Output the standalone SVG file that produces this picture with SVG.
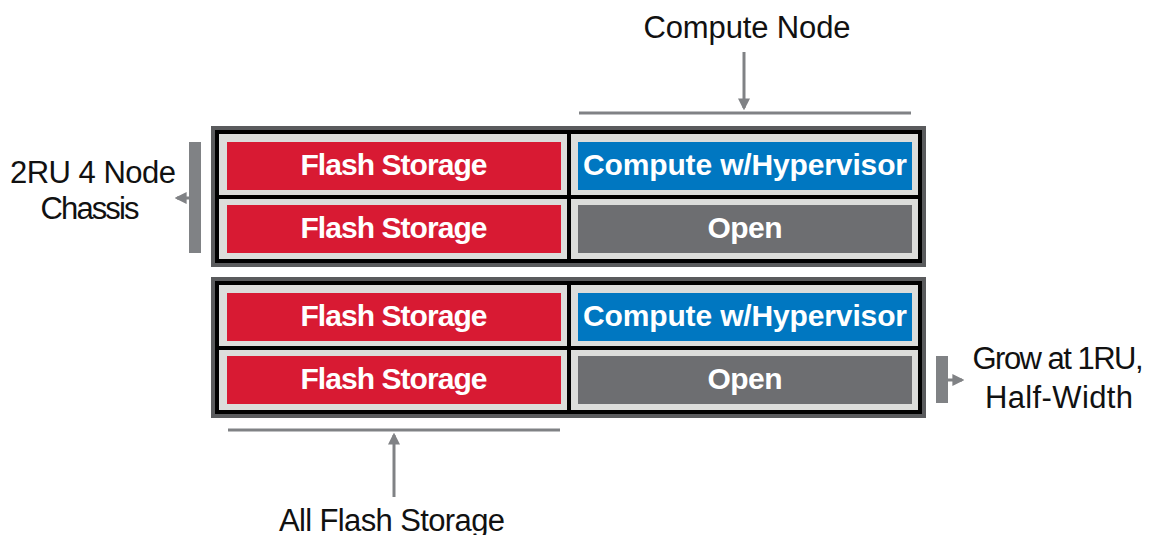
<svg xmlns="http://www.w3.org/2000/svg" width="1150" height="535" viewBox="0 0 1150 535">
<style>
.frame{fill:#5a5b5d}
.inner{fill:#000}
.cell{fill:#dcdddb}
.red{fill:#d81a33}
.blue{fill:#0077c1}
.open{fill:#6d6e71}
.wt{font-family:"Liberation Sans",Arial,sans-serif;font-weight:bold;font-size:30px;fill:#fff;text-anchor:middle}
.lb{font-family:"Liberation Sans",Arial,sans-serif;font-size:31px;fill:#111;text-anchor:middle}
.ln{stroke:#808285;stroke-width:3;fill:none}
.bar{fill:#808285}
</style>
<defs>
<marker id="ah" viewBox="0 0 10 10" refX="8" refY="5" markerWidth="4" markerHeight="4" orient="auto">
<path d="M0,0 L10,5 L0,10 z" fill="#808285"/>
</marker>
</defs>
<rect width="1150" height="535" fill="#fff"/>
<g id="chassis1">
<rect class="frame" x="211" y="126" width="715" height="141"/>
<rect class="inner" x="215" y="130" width="707" height="133"/>
<rect class="cell" x="219" y="134" width="348" height="61"/>
<rect class="cell" x="219" y="199" width="348" height="60"/>
<rect class="cell" x="571" y="134" width="347" height="61"/>
<rect class="cell" x="571" y="199" width="347" height="60"/>
<g id="c1-fs1"><rect class="red" x="227" y="142" width="334" height="48"/><text class="wt" x="394" y="175" textLength="187">Flash Storage</text></g>
<g id="c1-fs2"><rect class="red" x="227" y="205" width="334" height="48"/><text class="wt" x="394" y="238" textLength="187">Flash Storage</text></g>
<g id="c1-comp"><rect class="blue" x="578" y="142" width="334" height="48"/><text class="wt" x="745" y="175" textLength="324">Compute w/Hypervisor</text></g>
<g id="c1-open"><rect class="open" x="578" y="205" width="334" height="48"/><text class="wt" x="745" y="238" textLength="75">Open</text></g>
</g>
<g id="chassis2">
<rect class="frame" x="211" y="277" width="715" height="141"/>
<rect class="inner" x="215" y="281" width="707" height="133"/>
<rect class="cell" x="219" y="285" width="348" height="61"/>
<rect class="cell" x="219" y="350" width="348" height="60"/>
<rect class="cell" x="571" y="285" width="347" height="61"/>
<rect class="cell" x="571" y="350" width="347" height="60"/>
<g id="c2-fs1"><rect class="red" x="227" y="293" width="334" height="48"/><text class="wt" x="394" y="326" textLength="187">Flash Storage</text></g>
<g id="c2-fs2"><rect class="red" x="227" y="356" width="334" height="48"/><text class="wt" x="394" y="389" textLength="187">Flash Storage</text></g>
<g id="c2-comp"><rect class="blue" x="578" y="293" width="334" height="48"/><text class="wt" x="745" y="326" textLength="324">Compute w/Hypervisor</text></g>
<g id="c2-open"><rect class="open" x="578" y="356" width="334" height="48"/><text class="wt" x="745" y="389" textLength="75">Open</text></g>
</g>
<g id="label-compute"><text class="lb" x="747" y="38" textLength="207">Compute Node</text></g>
<g id="label-flash"><text class="lb" x="392" y="531" textLength="226">All Flash Storage</text></g>
<g id="label-chassis"><text class="lb" x="93" y="183" textLength="166">2RU 4 Node</text><text class="lb" x="90" y="219" textLength="99">Chassis</text></g>
<g id="label-grow"><text class="lb" x="1058" y="369" textLength="171">Grow at 1RU,</text><text class="lb" x="1059" y="408" textLength="148">Half-Width</text></g>
<g id="connectors">
<line class="ln" x1="579" y1="113" x2="911" y2="113"/>
<line class="ln" x1="744" y1="52" x2="744" y2="108" marker-end="url(#ah)"/>
<line class="ln" x1="228" y1="430" x2="560" y2="430"/>
<line class="ln" x1="394" y1="497" x2="394" y2="435" marker-end="url(#ah)"/>
<rect class="bar" x="189" y="142" width="12" height="111"/>
<line class="ln" x1="189" y1="198" x2="177" y2="198" marker-end="url(#ah)"/>
<rect class="bar" x="936" y="356" width="12" height="47"/>
<line class="ln" x1="948" y1="380" x2="962" y2="380" marker-end="url(#ah)"/>
</g>
</svg>
